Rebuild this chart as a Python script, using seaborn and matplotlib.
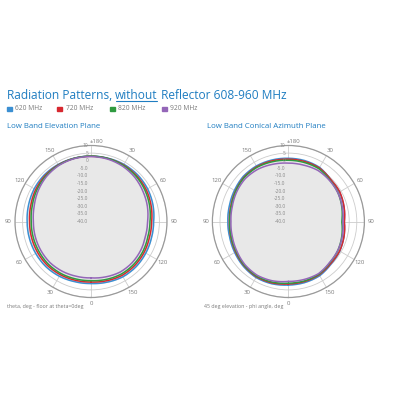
import numpy as np
import pandas as pd
import matplotlib
matplotlib.use("Agg")
import matplotlib.pyplot as plt
import seaborn as sns

# ---------------- data (dB, theta every 15 deg, 0 at bottom, clockwise) ----------------
angles_deg = list(range(0, 360, 15))
freqs = ["620 MHz", "720 MHz", "820 MHz", "920 MHz"]
colors = ["#3b8fd2", "#d7282f", "#2f9a40", "#9466b8"]

blue_el = [0.8, 1.0, 1.6, 2.0, 2.0, 2.0, 2.0, 2.5, 3.1, 3.4, 3.3, 3.1, 3.0, 3.1, 3.4, 3.4, 3.0, 2.2, 1.2, 1.2, 1.6, 2.0, 2.0, 1.3]
red_el = [-0.2, 0.0, 0.4, 0.7, 0.6, 0.5, 0.4, 1.0, 2.0, 2.7, 3.0, 3.0, 2.9, 2.9, 2.9, 2.5, 1.9, 0.9, -0.1, -0.2, 0.4, 0.8, 0.9, 0.3]
green_el = [-1.1, -0.9, -0.5, -0.3, -0.5, -0.6, -0.7, 0.0, 1.2, 2.2, 2.8, 3.0, 3.0, 2.9, 2.6, 2.0, 1.0, -0.1, -1.2, -1.3, -0.6, -0.2, -0.1, -0.6]
purple_el = [-2.9, -2.7, -2.2, -1.8, -1.9, -2.0, -2.1, -1.3, 0.2, 1.6, 2.5, 2.8, 2.7, 2.5, 1.9, 0.9, -0.5, -1.6, -2.8, -2.9, -2.2, -1.7, -1.6, -2.3]

blue_az = [1.8, 2.4, 2.6, 1.8, 0.8, 0.0, -0.2, 0.2, 1.0, 2.0, 2.2, 1.9, 1.6, 1.5, 1.1, -0.8, -1.2, -2.2, -3.3, -2.2, -1.0, -0.4, 1.2, 1.6]
red_az = [1.1, 1.8, 2.0, 1.2, 0.1, -0.8, -1.2, -0.8, 0.2, 1.3, 1.6, 1.3, 1.0, 0.9, 0.7, -0.8, -1.0, -2.1, -3.2, -2.1, -1.1, -0.8, 0.5, 0.9]
green_az = [0.6, 1.3, 1.6, 0.9, -0.3, -1.0, -1.4, -1.1, 0.0, 1.0, 1.2, 0.7, 0.3, 0.2, 0.1, -1.5, -2.3, -3.6, -4.9, -3.6, -2.3, -1.5, 0.1, 0.5]
purple_az = [-0.6, 0.4, 0.9, 0.3, -0.9, -1.8, -2.2, -1.8, -0.8, 0.0, -0.2, -1.0, -1.6, -1.6, -1.2, -1.8, -2.4, -3.3, -4.2, -3.3, -2.4, -1.8, -0.4, -0.5]

r_ticks = [-40, -35, -30, -25, -20, -15, -10, -5, 0, 5, 10]
r_tick_labels = ["-40.0", "-35.0", "-30.0", "-25.0", "-20.0", "-15.0", "-10.0", "-5.0", "0", "5", "10"]
theta_ticks = list(range(0, 360, 30))
theta_tick_labels = ["0", "30", "60", "90", "120", "150", "\u00b1180", "30", "60", "90", "120", "150"]

title_parts = ["Radiation Patterns, ", "without", " Reflector 608-960 MHz"]
subtitles = ["Low Band Elevation Plane", "Low Band Conical Azimuth Plane"]
captions = ["theta, deg - floor at theta=0deg", "45 deg elevation - phi angle, deg"]

# ---------------- style ----------------
sns.set_style("white")
plt.rcParams["font.family"] = ["Open Sans", "DejaVu Sans"]
TITLE_BLUE = "#1f7dc1"
GRAY_TXT = "#7a7a7a"

fig = plt.figure(figsize=(4, 4), dpi=100)


def make_df(series):
    rows = []
    for name, vals in zip(freqs, series):
        th = np.deg2rad(angles_deg + [360])
        vv = list(vals) + [vals[0]]
        for t, v in zip(th, vv):
            rows.append({"theta": t, "value": v, "freq": name})
    return pd.DataFrame(rows)


def draw_polar(rect, series):
    ax = fig.add_axes(rect, projection="polar")
    ax.set_theta_zero_location("S")
    ax.set_theta_direction(-1)
    ax.set_ylim(-40, 10)
    df = make_df(series)
    env = np.max(np.array(series), axis=0)
    th = np.deg2rad(angles_deg + [360])
    envc = list(env) + [env[0]]
    coll = ax.fill_between(th, -40, envc, color="#e8e8e8", zorder=1, linewidth=0)
    for p in coll.get_paths():
        p._interpolation_steps = 20
    sns.lineplot(data=df, x="theta", y="value", hue="freq", palette=colors,
                 ax=ax, legend=False, sort=True, estimator=None, linewidth=1.1, zorder=3)
    for ln in ax.lines:
        ln.get_path()._interpolation_steps = 20
    ax.set_xlabel("")
    ax.set_ylabel("")
    ax.set_xticks(np.deg2rad(theta_ticks))
    ax.set_xticklabels([])
    ax.set_yticks(r_ticks)
    ax.set_yticklabels([])
    # theta labels placed just outside the outer ring
    d = 4.2
    for deg, lab in zip(theta_ticks, theta_tick_labels):
        t = np.deg2rad(deg)
        if deg == 180:
            ax.annotate(lab, xy=(t, 10), xytext=(-1.2, 2.6), textcoords="offset points",
                        ha="left", va="center", fontsize=4.3, color=GRAY_TXT,
                        annotation_clip=False)
        else:
            ax.annotate(lab, xy=(t, 10), xytext=(-d * np.sin(t) * 1.15, -d * np.cos(t)),
                        textcoords="offset points", ha="center", va="center",
                        fontsize=4.3, color=GRAY_TXT, annotation_clip=False)
    for r, lab in zip(r_ticks, r_tick_labels):
        ax.annotate(lab, xy=(np.pi, r), xytext=(-2, 0), textcoords="offset points",
                    ha="right", va="center", fontsize=3.5, color="#888888", zorder=5)
    ax.grid(True, color="#cccccc", linewidth=0.6)
    ax.spines["polar"].set_color("#9a9a9a")
    ax.spines["polar"].set_linewidth(0.9)
    ax.set_facecolor("white")
    return ax


draw_polar([0.0375, 0.25625, 0.38, 0.38], [blue_el, red_el, green_el, purple_el])
draw_polar([0.531, 0.25625, 0.38, 0.38], [blue_az, red_az, green_az, purple_az])

# ---------------- title with underlined word ----------------
fig.canvas.draw()
renderer = fig.canvas.get_renderer()
x = 0.017
ty = 0.753
for i, part in enumerate(title_parts):
    t = fig.text(x, ty, part, fontsize=8.6, color=TITLE_BLUE, ha="left", va="baseline")
    bb = t.get_window_extent(renderer=renderer)
    w = bb.width / fig.bbox.width
    if i == 1:
        fig.add_artist(plt.Line2D([x + 0.002, x + w - 0.002], [ty - 0.006, ty - 0.006],
                                  color=TITLE_BLUE, linewidth=0.8, transform=fig.transFigure))
    x += w

# ---------------- legend ----------------
leg_x = [0.017, 0.143, 0.275, 0.405]
for lx, name, c in zip(leg_x, freqs, colors):
    fig.patches.append(plt.Rectangle((lx, 0.7215), 0.012, 0.012, color=c,
                                     transform=fig.transFigure, figure=fig))
    fig.text(lx + 0.021, 0.7275, name, fontsize=4.8, color=GRAY_TXT, va="center", ha="left")

# ---------------- subtitles & captions ----------------
fig.text(0.017, 0.683, subtitles[0], fontsize=5.7, color=TITLE_BLUE, va="center")
fig.text(0.518, 0.683, subtitles[1], fontsize=5.7, color=TITLE_BLUE, va="center")
fig.text(0.017, 0.233, captions[0], fontsize=3.8, color=GRAY_TXT, va="center")
fig.text(0.510, 0.233, captions[1], fontsize=3.8, color=GRAY_TXT, va="center")

fig.savefig("out.png", dpi=100, facecolor="white")
